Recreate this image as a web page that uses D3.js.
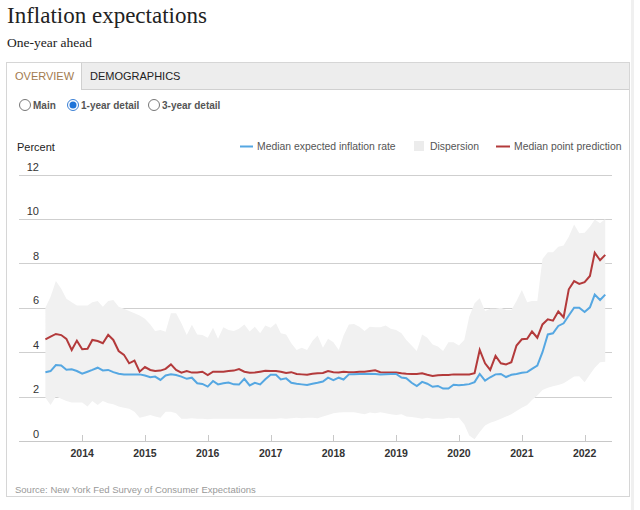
<!DOCTYPE html>
<html><head><meta charset="utf-8">
<script src="https://cdn.jsdelivr.net/npm/d3@7"></script>
<style>
html,body{margin:0;padding:0;background:#fff;}
svg{display:block;}
</style></head>
<body>
<svg id="chart" width="640" height="510"></svg>
<script>
const startMonth = "2013-06";
const yearTicks = [2014, 2015, 2016, 2017, 2018, 2019, 2020, 2021, 2022];
const yTicks = [0, 2, 4, 6, 8, 10, 12];
const medianRate = [3.1,3.15,3.42,3.4,3.21,3.23,3.15,
3.03,3.12,3.2,3.3,3.18,3.2,3.1,3.03,3.0,3.0,3.0,3.0,
2.95,2.87,2.9,2.75,2.95,3.0,2.97,2.9,2.8,2.85,2.6,2.57,
2.45,2.7,2.55,2.6,2.63,2.55,2.54,2.8,2.5,2.62,2.55,2.78,
2.98,2.98,2.77,2.82,2.62,2.58,2.55,2.52,2.58,2.62,2.68,2.85,
2.74,2.85,2.77,3.0,3.01,3.02,3.02,3.03,3.02,3.0,3.01,3.02,
3.02,2.86,2.83,2.62,2.47,2.66,2.58,2.44,2.48,2.36,2.36,2.53,
2.51,2.53,2.56,2.65,3.02,2.72,2.87,3.0,3.02,2.88,2.98,3.02,
3.07,3.1,3.25,3.4,4.0,4.8,4.85,5.18,5.3,5.65,6.0,6.0,
5.81,6.02,6.59,6.35,6.59];
const pointPrediction = [4.58,4.7,4.82,4.77,4.6,4.1,4.52,
4.13,4.15,4.55,4.5,4.4,4.78,4.55,4.05,3.88,3.5,3.62,3.12,
3.33,3.2,3.15,3.17,3.25,3.45,3.2,3.08,3.15,3.08,3.08,3.12,
2.97,3.12,3.12,3.12,3.15,3.17,3.24,3.12,3.07,3.08,3.12,3.16,
3.15,3.15,3.12,3.06,3.1,3.02,3.0,2.98,3.03,3.05,3.06,3.15,
3.1,3.08,3.12,3.1,3.1,3.12,3.12,3.15,3.18,3.1,3.08,3.08,
3.08,3.05,3.03,3.02,3.02,3.05,2.98,2.93,2.96,2.97,2.97,3.0,
3.0,3.0,3.0,3.05,4.1,3.5,3.2,3.83,3.5,3.45,3.55,4.3,
4.58,4.6,4.93,4.65,5.25,5.48,5.42,5.83,5.57,6.83,7.2,7.07,
7.15,7.43,8.48,8.14,8.38];
const dispersionHigh = [6.0,6.5,7.2,6.85,6.4,6.25,6.1,
6.1,6.1,6.25,6.3,6.05,6.3,6.35,6.05,5.95,5.85,5.75,5.65,
5.5,5.25,4.95,5.0,4.92,5.75,5.75,5.3,4.77,5.23,4.8,4.77,
4.65,5.1,4.6,5.12,5.0,4.95,5.05,5.25,4.93,5.15,4.85,5.2,
5.1,5.3,4.85,4.8,4.4,4.1,4.2,4.1,4.5,4.75,4.2,4.6,
4.45,4.1,4.75,5.25,5.27,5.15,4.95,5.15,5.12,5.12,5.2,5.05,
5.0,4.85,4.55,4.3,4.05,4.8,4.65,4.35,4.25,4.05,4.45,4.45,
4.3,4.55,5.6,6.2,6.43,5.85,5.95,5.95,6.0,5.9,5.9,6.3,
6.8,6.25,6.3,6.3,8.2,8.5,8.5,8.75,8.8,9.2,9.75,9.35,
9.38,9.65,9.97,9.8,10.0];
const dispersionLow = [1.95,1.62,2.0,1.9,1.8,1.73,1.73,
1.73,1.55,1.8,1.62,1.8,1.7,1.65,1.55,1.5,1.45,1.32,1.05,
1.1,1.17,1.1,1.05,1.32,1.32,1.25,1.0,1.0,1.02,1.0,1.0,
0.98,1.0,1.0,1.0,1.0,1.0,1.0,1.0,1.0,1.0,1.0,1.0,
1.0,1.0,1.02,1.0,1.02,1.05,1.02,1.05,1.05,1.02,1.1,1.17,
1.25,1.28,1.3,1.3,1.3,1.25,1.2,1.28,1.25,1.3,1.25,1.2,
1.17,1.2,1.1,1.08,1.05,1.0,1.05,1.0,1.0,1.0,1.05,1.02,
1.05,0.75,0.25,0.08,0.4,0.7,0.82,0.9,1.0,1.1,1.2,1.35,
1.5,1.62,1.85,2.05,2.3,2.4,2.47,2.52,2.6,2.75,2.9,2.92,
2.65,3.0,3.3,3.55,3.57];
const legendItems = ["Median expected inflation rate", "Dispersion", "Median point prediction"];

const svg = d3.select("#chart");
const sans = "'Liberation Sans', Arial, sans-serif";
const serif = "'Liberation Serif', 'Times New Roman', serif";
const blue = "#55a7e2", red = "#b33a3b", band = "#f1f1f1";

const start = d3.timeParse("%Y-%m")(startMonth);
const data = medianRate.map((m, i) => ({
  date: d3.timeMonth.offset(start, i), med: m, pt: pointPrediction[i],
  hi: dispersionHigh[i], lo: dispersionLow[i]
}));

// header
svg.append("text").attr("x", 7).attr("y", 23).attr("font-family", serif)
  .attr("font-size", 23).attr("fill", "#222").text("Inflation expectations");
svg.append("text").attr("x", 7).attr("y", 47).attr("font-family", serif)
  .attr("font-size", 13.5).attr("fill", "#222").text("One-year ahead");

// right scrollbar line
svg.append("rect").attr("x", 631).attr("y", 0).attr("width", 3).attr("height", 510).attr("fill", "#f0f0f0");

// panel
svg.append("rect").attr("x", 6.5).attr("y", 62.5).attr("width", 623).attr("height", 434)
  .attr("fill", "#fff").attr("stroke", "#d6d6d6");
svg.append("rect").attr("x", 7).attr("y", 63).attr("width", 622).attr("height", 26).attr("fill", "#ededed");
svg.append("line").attr("x1", 81).attr("x2", 629).attr("y1", 89.5).attr("y2", 89.5).attr("stroke", "#d0d0d0");
svg.append("rect").attr("x", 7).attr("y", 63).attr("width", 74).attr("height", 27).attr("fill", "#fff");
svg.append("line").attr("x1", 81.5).attr("x2", 81.5).attr("y1", 63).attr("y2", 90).attr("stroke", "#d0d0d0");
svg.append("text").attr("x", 15).attr("y", 80).attr("font-family", sans).attr("font-size", 11)
  .attr("fill", "#a27a4e").text("OVERVIEW");
svg.append("text").attr("x", 90).attr("y", 80).attr("font-family", sans).attr("font-size", 11)
  .attr("fill", "#222").text("DEMOGRAPHICS");

// radios
const radios = [{x: 25, label: "Main", on: false}, {x: 73, label: "1-year detail", on: true}, {x: 154, label: "3-year detail", on: false}];
radios.forEach(r => {
  svg.append("circle").attr("cx", r.x).attr("cy", 105).attr("r", 5.5).attr("fill", "#fff")
    .attr("stroke", r.on ? "#3a7fd5" : "#777").attr("stroke-width", 1);
  if (r.on) svg.append("circle").attr("cx", r.x).attr("cy", 105).attr("r", 3.5).attr("fill", "#1e73d8");
  svg.append("text").attr("x", r.x + 8).attr("y", 109).attr("font-family", sans).attr("font-size", 10)
    .attr("font-weight", "bold").attr("fill", "#555").text(r.label);
});

// scales
const x = d3.scaleTime().domain([new Date(2014, 0, 1), new Date(2022, 0, 1)]).range([82.2, 584.6]);
const y = d3.scaleLinear().domain([0, 12]).range([441, 174.5]);
const left = 19, right = 612;

// gridlines
svg.append("g").selectAll("line").data(yTicks.filter(t => t > 0)).join("line")
  .attr("x1", left).attr("x2", right).attr("y1", d => Math.round(y(d)) + 0.5).attr("y2", d => Math.round(y(d)) + 0.5)
  .attr("stroke", "#cfcfcf");

// band
svg.append("path").datum(data).attr("fill", band)
  .attr("d", d3.area().x(d => x(d.date)).y0(d => y(d.lo)).y1(d => y(d.hi)));

// lines
svg.append("path").datum(data).attr("fill", "none").attr("stroke", red).attr("stroke-width", 2)
  .attr("d", d3.line().x(d => x(d.date)).y(d => y(d.pt)));
svg.append("path").datum(data).attr("fill", "none").attr("stroke", blue).attr("stroke-width", 2)
  .attr("d", d3.line().x(d => x(d.date)).y(d => y(d.med)));

// y labels
svg.append("g").selectAll("text").data(yTicks).join("text")
  .attr("x", 39).attr("y", d => y(d) - 3.5).attr("text-anchor", "end")
  .attr("font-family", sans).attr("font-size", 11).attr("fill", "#333").text(d => d);

// x axis
svg.append("line").attr("x1", left).attr("x2", right).attr("y1", 441.5).attr("y2", 441.5).attr("stroke", "#c8c8c8");
const xAxisG = svg.append("g");
xAxisG.selectAll("line").data(yearTicks).join("line")
  .attr("x1", d => Math.round(x(new Date(d, 0, 1))) + 0.5).attr("x2", d => Math.round(x(new Date(d, 0, 1))) + 0.5)
  .attr("y1", 435).attr("y2", 441).attr("stroke", "#c8c8c8");
xAxisG.selectAll("text").data(yearTicks).join("text")
  .attr("x", d => x(new Date(d, 0, 1))).attr("y", 457).attr("text-anchor", "middle")
  .attr("font-family", sans).attr("font-size", 10.5).attr("font-weight", "bold").attr("fill", "#333").text(d => d);

// axis title
svg.append("text").attr("x", 17).attr("y", 151).attr("font-family", sans).attr("font-size", 11)
  .attr("fill", "#222").text("Percent");

// legend
const lg = svg.append("g").attr("font-family", sans).attr("font-size", 10.4).attr("fill", "#555");
lg.append("line").attr("x1", 240).attr("x2", 253).attr("y1", 146.5).attr("y2", 146.5).attr("stroke", blue).attr("stroke-width", 2);
lg.append("text").attr("x", 257).attr("y", 150).text(legendItems[0]);
lg.append("rect").attr("x", 414).attr("y", 141).attr("width", 10).attr("height", 10).attr("fill", "#ececec");
lg.append("text").attr("x", 430).attr("y", 150).text(legendItems[1]);
lg.append("line").attr("x1", 496).attr("x2", 510).attr("y1", 146.5).attr("y2", 146.5).attr("stroke", red).attr("stroke-width", 2);
lg.append("text").attr("x", 514).attr("y", 150).text(legendItems[2]);

// source
svg.append("text").attr("x", 15).attr("y", 493).attr("font-family", sans).attr("font-size", 9.5)
  .attr("fill", "#999").text("Source: New York Fed Survey of Consumer Expectations");
</script>
</body></html>
